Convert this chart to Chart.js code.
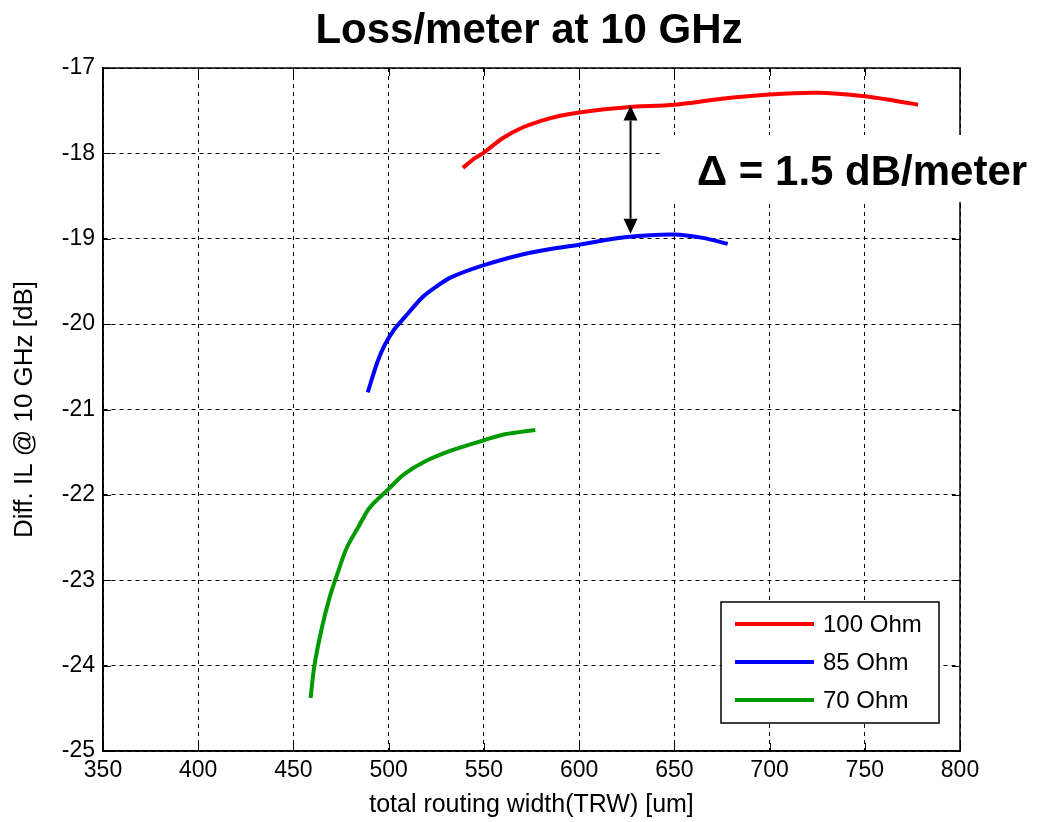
<!DOCTYPE html>
<html>
<head>
<meta charset="utf-8">
<script src="https://cdn.jsdelivr.net/npm/chart.js@4.4.0/dist/chart.umd.min.js"></script>
<style>
  html, body { margin: 0; padding: 0; background: #fff; }
</style>
</head>
<body>
<canvas id="chart" width="1041" height="822"></canvas>
<script>
const FONT = '"Liberation Sans", Arial, Helvetica, sans-serif';

// values
const xTicks = [350, 400, 450, 500, 550, 600, 650, 700, 750, 800];
const yTicks = [-25, -24, -23, -22, -21, -20, -19, -18, -17];

const ohm100X = [539, 545, 550, 560, 570, 580, 590, 600, 625, 650, 675, 700, 725, 750, 765, 778];
const ohm100Y = [-18.17, -18.06, -17.99, -17.82, -17.70, -17.62, -17.56, -17.52, -17.46, -17.43, -17.36, -17.31, -17.29, -17.33, -17.38, -17.43];

const ohm85X = [489, 494, 498, 503, 508, 518, 525, 533, 550, 573, 600, 625, 650, 665, 678];
const ohm85Y = [-20.80, -20.45, -20.24, -20.06, -19.93, -19.68, -19.56, -19.45, -19.31, -19.17, -19.07, -18.98, -18.95, -18.99, -19.06];

const ohm70X = [459, 461, 465, 469, 473, 478, 484, 490, 500, 508, 519, 533, 550, 561, 577];
const ohm70Y = [-24.38, -24.0, -23.55, -23.20, -22.93, -22.62, -22.38, -22.15, -21.93, -21.76, -21.61, -21.48, -21.36, -21.29, -21.24];

const chartTitle = "Loss/meter at 10 GHz";

// delta arrow between the 100 and 85 Ohm curves
const deltaX = 627;
const deltaTop = -17.44;
const deltaBottom = -18.94;
const deltaText = "\u0394 = 1.5 dB/meter";

const pts = (xs, ys) => xs.map((x, i) => ({ x, y: ys[i] }));

const framePlugin = {
  id: "frame",
  beforeDatasetsDraw(chart) {
    const { ctx, chartArea: a, scales: { x, y } } = chart;
    ctx.save();
    ctx.setLineDash([]);
    ctx.strokeStyle = "#000";
    ctx.lineWidth = 1.5;
    ctx.strokeRect(a.left, a.top, a.right - a.left, a.bottom - a.top);
    ctx.beginPath();
    x.ticks.forEach((t) => {
      const px = Math.round(x.getPixelForValue(t.value)) + 0.5;
      ctx.moveTo(px, a.bottom); ctx.lineTo(px, a.bottom - 8);
      ctx.moveTo(px, a.top); ctx.lineTo(px, a.top + 8);
    });
    y.ticks.forEach((t) => {
      const py = Math.round(y.getPixelForValue(t.value)) + 0.5;
      ctx.moveTo(a.left, py); ctx.lineTo(a.left + 8, py);
      ctx.moveTo(a.right, py); ctx.lineTo(a.right - 8, py);
    });
    ctx.lineWidth = 1;
    ctx.stroke();
    // white backing for the delta label
    ctx.fillStyle = "#fff";
    ctx.fillRect(a.left + 559, a.top + 67, chart.width - (a.left + 559), 67);
    ctx.restore();
  },
  afterDatasetsDraw(chart) {
    const { ctx, chartArea: a, scales: { x, y } } = chart;
    ctx.save();
    // title
    ctx.fillStyle = "#000";
    ctx.font = "bold 42px " + FONT;
    ctx.textAlign = "center";
    ctx.textBaseline = "middle";
    ctx.fillText(chartTitle, 529, 31);

    // double-headed arrow
    const ax = x.getPixelForValue(deltaX);
    const y1 = y.getPixelForValue(deltaTop);
    const y2 = y.getPixelForValue(deltaBottom);
    const hl = 15, hw = 7;
    ctx.strokeStyle = "#000";
    ctx.lineWidth = 2;
    ctx.beginPath();
    ctx.moveTo(ax, y1 + hl); ctx.lineTo(ax, y2 - hl);
    ctx.stroke();
    ctx.beginPath();
    ctx.moveTo(ax, y1); ctx.lineTo(ax - hw, y1 + hl); ctx.lineTo(ax + hw, y1 + hl); ctx.closePath();
    ctx.moveTo(ax, y2); ctx.lineTo(ax - hw, y2 - hl); ctx.lineTo(ax + hw, y2 - hl); ctx.closePath();
    ctx.fill();
    // label
    ctx.font = "bold 42px " + FONT;
    ctx.textAlign = "left";
    ctx.fillText(deltaText, a.left + 594, a.top + 105);

    // legend box
    const lx = a.right - 239, ly = a.bottom - 149, lw = 218, lh = 121;
    ctx.fillStyle = "#fff";
    ctx.fillRect(lx, ly, lw, lh);
    ctx.lineWidth = 1.5;
    ctx.strokeRect(lx, ly, lw, lh);
    ctx.font = "24px " + FONT;
    chart.data.datasets.forEach((ds, i) => {
      const ry = ly + 22 + i * 38;
      ctx.strokeStyle = ds.borderColor;
      ctx.lineWidth = 4;
      ctx.beginPath();
      ctx.moveTo(lx + 14, ry); ctx.lineTo(lx + 93, ry);
      ctx.stroke();
      ctx.fillStyle = "#000";
      ctx.fillText(ds.label, lx + 102, ry + 1);
    });
    ctx.restore();
  },
};

new Chart(document.getElementById("chart"), {
  type: "line",
  data: {
    datasets: [
      { label: "100 Ohm", data: pts(ohm100X, ohm100Y), borderColor: "#ff0000" },
      { label: "85 Ohm", data: pts(ohm85X, ohm85Y), borderColor: "#0000ff" },
      { label: "70 Ohm", data: pts(ohm70X, ohm70Y), borderColor: "#009a00" },
    ],
  },
  options: {
    responsive: false,
    animation: false,
    layout: { padding: { left: 0, right: 81, top: 68, bottom: 0 } },
    elements: {
      line: { borderWidth: 4, tension: 0.3, fill: false },
      point: { radius: 0, hoverRadius: 0 },
    },
    plugins: {
      legend: { display: false },
      tooltip: { enabled: false },
      title: { display: false },
    },
    scales: {
      x: {
        type: "linear",
        min: 350,
        max: 800,
        afterBuildTicks: (s) => { s.ticks = xTicks.map((v) => ({ value: v })); },
        afterFit: (s) => { s.height = 71; },
        ticks: { color: "#000", padding: 6, font: { family: FONT, size: 23 } },
        grid: { color: "#000", lineWidth: 1, drawTicks: false },
        border: { display: true, color: "#000", width: 1.5, dash: [4, 4] },
        title: {
          display: true,
          text: "total routing width(TRW) [um]",
          color: "#000",
          font: { family: FONT, size: 25 },
          padding: { top: 0, bottom: 2 },
        },
      },
      y: {
        type: "linear",
        min: -25,
        max: -17,
        afterBuildTicks: (s) => { s.ticks = yTicks.map((v) => ({ value: v })); },
        afterFit: (s) => { s.width = 103; },
        ticks: { color: "#000", padding: 8, font: { family: FONT, size: 23 } },
        grid: { color: "#000", lineWidth: 1, drawTicks: false },
        border: { display: true, color: "#000", width: 1.5, dash: [4, 4] },
        title: {
          display: true,
          text: "Diff. IL @ 10 GHz [dB]",
          color: "#000",
          font: { family: FONT, size: 26 },
          padding: { top: 9, bottom: 0 },
        },
      },
    },
  },
  plugins: [framePlugin],
});
</script>
</body>
</html>
